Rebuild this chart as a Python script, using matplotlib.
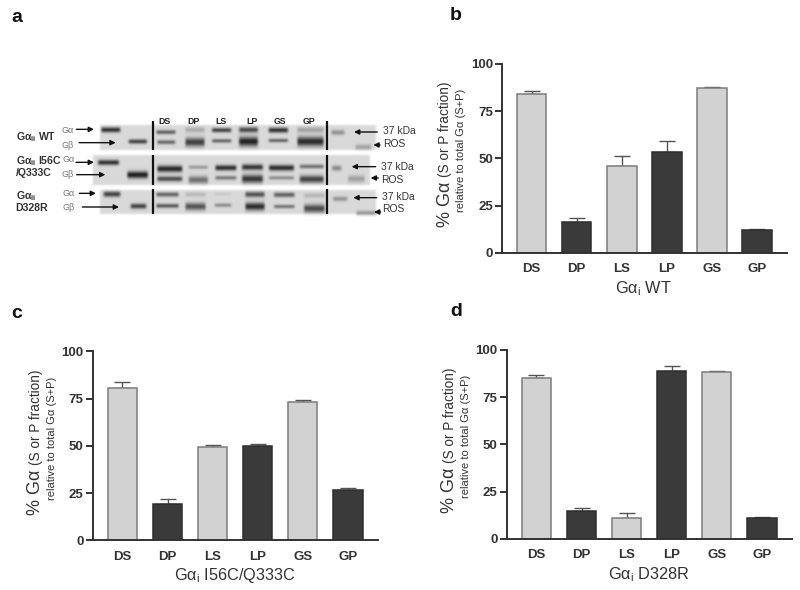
import numpy as np
import matplotlib
matplotlib.use('Agg')
import matplotlib.pyplot as plt

plt.rcParams['font.family'] = ['Liberation Sans', 'DejaVu Sans']
plt.rcParams['mathtext.fontset'] = 'custom'
plt.rcParams['mathtext.rm'] = 'Liberation Sans'
plt.rcParams['mathtext.it'] = 'Liberation Sans:italic'
plt.rcParams['mathtext.bf'] = 'Liberation Sans:bold'

W, H = 800, 590
TXT = '#333333'
LIGHT = '#d2d2d2'
DARK = '#3a3a3a'

categories = ['DS', 'DP', 'LS', 'LP', 'GS', 'GP']
wt_vals = [84, 16.5, 46, 53.5, 87.5, 12]
wt_errs = [1.5, 2, 5, 5.5, 0.5, 0.7]
dm_vals = [80.5, 19, 49.5, 50, 73, 26.5]
dm_errs = [3, 3, 1, 1.2, 1.3, 1.2]
dr_vals = [85, 14.5, 11, 89, 88.5, 11]
dr_errs = [2, 2, 2.5, 2.5, 0.2, 0.4]

# gel panel, read in zoomed px (x0, x1, y, thickness, darkness)
gel_bg = [(300, 1130, 105, 180), (280, 1110, 195, 285), (300, 1130, 300, 372)]
gel_bands = [
    (300, 362, 118, 9, .95), (382, 442, 153, 7, .9),
    (465, 528, 125, 6, .75), (468, 527, 155, 6, .7),
    (552, 615, 118, 10, .25), (552, 615, 155, 18, .8),
    (632, 695, 119, 7, .9), (632, 695, 151, 5, .75),
    (713, 775, 118, 10, .8), (713, 775, 153, 20, .95),
    (802, 865, 119, 9, .95), (802, 865, 150, 5, .75),
    (888, 972, 118, 10, .3), (888, 972, 153, 20, .9),
    (990, 1035, 126, 9, .4), (1062, 1115, 170, 10, .3),
    (290, 358, 216, 9, .95), (378, 445, 253, 14, 1.),
    (468, 548, 235, 13, .95), (468, 548, 265, 9, .8),
    (562, 625, 230, 5, .4), (562, 625, 268, 15, .55),
    (642, 710, 232, 10, .95), (642, 710, 262, 6, .6),
    (722, 790, 230, 11, .9), (722, 790, 265, 17, .85),
    (803, 883, 232, 11, .95), (803, 883, 262, 5, .5),
    (895, 972, 228, 6, .65), (895, 972, 266, 15, .8),
    (992, 1025, 233, 10, .45), (1040, 1095, 265, 14, .3),
    (307, 362, 311, 10, .85), (388, 440, 347, 9, .85),
    (465, 537, 312, 7, .7), (465, 537, 346, 6, .8),
    (552, 618, 312, 7, .2), (552, 618, 348, 15, .7),
    (640, 695, 311, 3, .12), (640, 695, 344, 5, .5),
    (732, 795, 312, 10, .75), (732, 795, 348, 16, .9),
    (818, 885, 313, 8, .7), (818, 885, 348, 5, .65),
    (908, 975, 315, 8, .2), (908, 975, 354, 17, .75),
    (995, 1043, 325, 8, .4), (1065, 1130, 368, 8, .4),
]
gel_lines = [(458, 92, 180), (980, 92, 180), (458, 195, 285), (980, 195, 285),
             (458, 298, 372), (980, 298, 372)]
gel_arrows = [
    (229, 282, 118), (237, 347, 158), (1132, 1062, 126), (1140, 1120, 165),
    (228, 282, 217), (230, 316, 254), (1127, 1055, 230), (1135, 1112, 264),
    (238, 288, 310), (247, 357, 351), (1130, 1060, 323), (1142, 1122, 366),
]


def zx(v):
    return v / 3


def zy(v):
    return v / 3 + 90


def smooth(img):
    # small blur, the gel in the figure is a soft scan
    k = np.array([1, 2, 1]) / 4
    ink = 1 - img
    for _ in range(2):
        ink = np.apply_along_axis(lambda r: np.convolve(r, k, mode='same'), 0, ink)
        ink = np.apply_along_axis(lambda r: np.convolve(r, k, mode='same'), 1, ink)
    return 1 - ink


def gel_image():
    img = np.ones((H, W))
    for x0, x1, y0, y1 in gel_bg:
        img[int(zy(y0)):int(zy(y1)), int(zx(x0)):int(zx(x1))] = 0.85
    yy, xx = np.mgrid[0:H, 0:W]
    for x0, x1, y, t, d in gel_bands:
        sx = np.clip((xx - zx(x0)) / 2, 0, 1) * np.clip((zx(x1) - xx) / 2, 0, 1)
        sy = np.exp(-((yy - zy(y)) / (t / 3 * 0.62 + 0.4)) ** 2)
        img = img * (1 - d * 0.92 * sx * sy)
    return smooth(img)


def bar_panel(rect, vals, errs, title):
    l, t, r, b = rect
    ax = fig.add_axes([l / W, 1 - b / H, (r - l) / W, (b - t) / H])
    x = np.arange(len(categories))
    colors = [LIGHT if i % 2 == 0 else DARK for i in x]
    edges = ['#7d7d7d' if i % 2 == 0 else '#2e2e2e' for i in x]
    ax.errorbar(x, vals, yerr=[np.zeros(len(errs)), errs], fmt='none', ecolor='#555555',
                elinewidth=1.0, capsize=5.5, capthick=1.0, zorder=1)
    ax.bar(x, vals, width=0.655, color=colors, edgecolor=edges, linewidth=1.1, zorder=2)
    ax.set_xlim(-0.66, 5.67)
    ax.set_ylim(0, 100)
    ax.set_yticks([0, 25, 50, 75, 100])
    ax.set_xticks(x)
    ax.set_xticklabels(categories)
    ax.spines['top'].set_visible(False)
    ax.spines['right'].set_visible(False)
    for s in ['left', 'bottom']:
        ax.spines[s].set_linewidth(1.4)
        ax.spines[s].set_color('#333333')
    ax.tick_params(axis='y', length=5, width=1.4, color='#333333', labelsize=9.5, labelcolor=TXT, pad=1.5)
    ax.tick_params(axis='x', length=0, labelsize=9.5, labelcolor=TXT, pad=7.5)
    for lab in ax.get_xticklabels() + ax.get_yticklabels():
        lab.set_fontweight('bold')
    ax.patch.set_alpha(0)
    cx = (l + r) / 2 - 1
    over.text(cx, b + 35.5, title, ha='center', va='center', fontsize=11.7, color=TXT)
    over.text(l - 57, b - 48, '% Gα', rotation=90, ha='center', va='center', fontsize=13, color=TXT)
    over.text(l - 57, b - 123, '(S or P fraction)', rotation=90, ha='center', va='center', fontsize=9.8, color=TXT)
    over.text(l - 41, b - 102, 'relative to total Gα (S+P)', rotation=90, ha='center', va='center',
              fontsize=8, color=TXT)


fig = plt.figure(figsize=(W / 100, H / 100), dpi=100)
over = fig.add_axes([0, 0, 1, 1])
over.imshow(gel_image(), cmap='gray', vmin=0, vmax=1, extent=(0, W, H, 0), aspect='auto',
            interpolation='bilinear')
over.set_xlim(0, W)
over.set_ylim(H, 0)
over.axis('off')

for x, y0, y1 in gel_lines:
    over.plot([zx(x), zx(x)], [zy(y0), zy(y1)], color='#111111', lw=1.6, solid_capstyle='butt')
for x0, x1, y in gel_arrows:
    over.annotate('', xy=(zx(x1), zy(y)), xytext=(zx(x0), zy(y)),
                  arrowprops=dict(arrowstyle='-|>,head_width=0.15,head_length=0.3', color='#111111',
                                  lw=1.0, shrinkA=0, shrinkB=0))

for name, x, y in zip(categories, [494, 580, 664, 755, 840, 927], [95] * 6):
    over.text(zx(x), zy(y), name, ha='center', va='center', fontsize=6.3, fontweight='bold', color='#222222')

for y, s in [(140, r'Gα$_{\mathbf{ii}}$ WT'), (213, r'Gα$_{\mathbf{ii}}$ I56C'), (250, '/Q333C'),
             (318, r'Gα$_{\mathbf{ii}}$'), (354, 'D328R')]:
    over.text(zx(47), zy(y), s, ha='left', va='center', fontsize=7.6, fontweight='bold', color='#333333')
for x, y, s in [(185, 122, 'Gα'), (185, 166, 'Gβ'), (187, 210, 'Gα'), (186, 253, 'Gβ'),
                (188, 310, 'Gα'), (188, 351, 'Gβ')]:
    over.text(zx(x), zy(y), s, ha='left', va='center', fontsize=6.5, color='#777777')
for x, y, s in [(1148, 124, '37 kDa'), (1148, 162, 'ROS'), (1143, 232, '37 kDa'), (1143, 270, 'ROS'),
                (1146, 321, '37 kDa'), (1146, 358, 'ROS')]:
    over.text(zx(x), zy(y), s, ha='left', va='center', fontsize=7.4, color='#333333')

for s, x, y in [('a', 17, 18), ('b', 456, 15), ('c', 17, 313), ('d', 456, 312)]:
    over.text(x, y, s, ha='center', va='center', fontsize=14, fontweight='bold', color='#111111')

bar_panel((502, 64, 787, 252.7), wt_vals, wt_errs, r'Gα$_{\mathrm{i}}$ WT')
bar_panel((92.7, 351.3, 378, 540.3), dm_vals, dm_errs, r'Gα$_{\mathrm{i}}$ I56C/Q333C')
bar_panel((506.7, 350, 792, 538.7), dr_vals, dr_errs, r'Gα$_{\mathrm{i}}$ D328R')

fig.savefig('out.png', dpi=100)
